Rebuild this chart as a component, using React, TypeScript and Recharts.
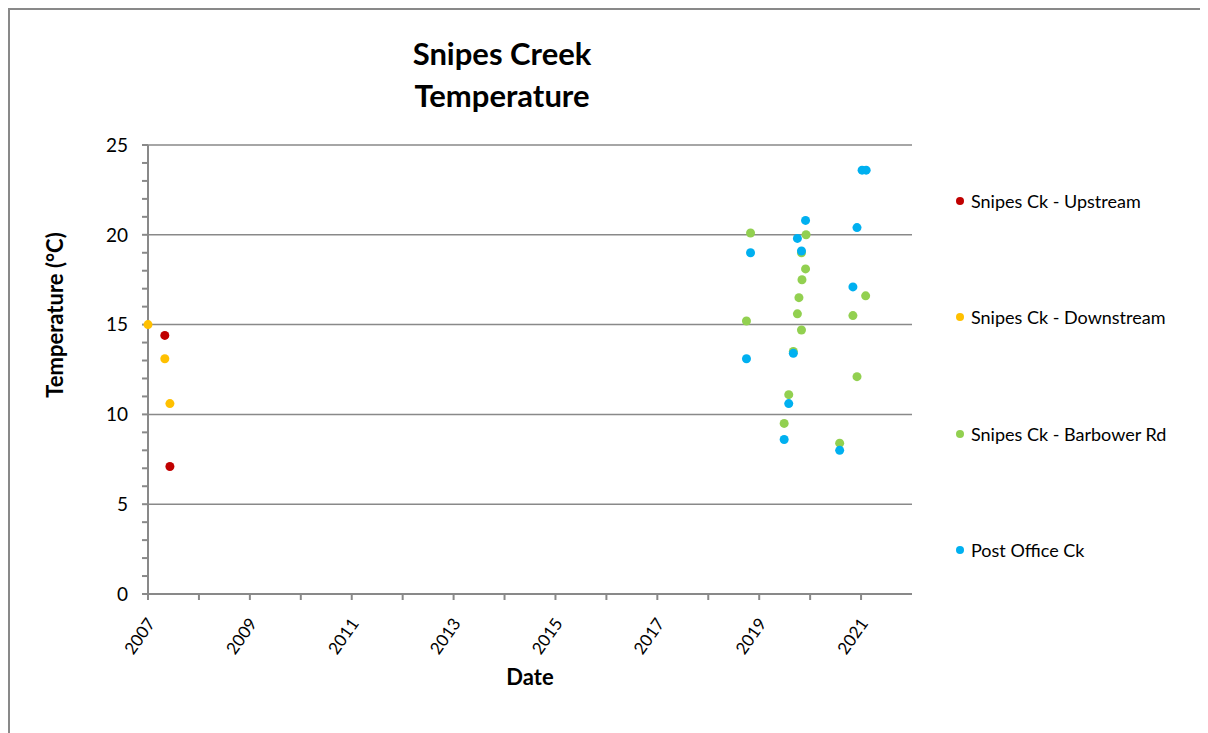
import React from 'react';
import { ScatterChart, Scatter, XAxis, YAxis, ReferenceLine } from 'recharts';

// decimal years, temperatures in °C
const upstreamDates = [2007.33, 2007.43];
const upstreamTemps = [14.4, 7.1];

const downstreamDates = [2007.0, 2007.33, 2007.43];
const downstreamTemps = [15.0, 13.1, 10.6];

const barbowerDates = [2018.83, 2019.92, 2019.83, 2019.91, 2019.84, 2019.78, 2021.09, 2019.75, 2020.84, 2018.75, 2019.83, 2019.67, 2020.92, 2019.58, 2019.49, 2020.58];
const barbowerTemps = [20.1, 20.0, 19.0, 18.1, 17.5, 16.5, 16.6, 15.6, 15.5, 15.2, 14.7, 13.5, 12.1, 11.1, 9.5, 8.4];

const postOfficeDates = [2021.02, 2021.1, 2019.91, 2020.92, 2019.75, 2018.83, 2019.83, 2020.84, 2018.75, 2019.67, 2019.58, 2019.49, 2020.58];
const postOfficeTemps = [23.6, 23.6, 20.8, 20.4, 19.8, 19.0, 19.1, 17.1, 13.1, 13.4, 10.6, 8.6, 8.0];

const yearTicks = [2007, 2008, 2009, 2010, 2011, 2012, 2013, 2014, 2015, 2016, 2017, 2018, 2019, 2020, 2021];
const tempTicks = Array.from({ length: 26 }, (_, i) => i);
const gridTemps = [5, 10, 15, 20, 25];

const zip = (xs: number[], ys: number[]) => xs.map((x, i) => ({ x, y: ys[i] }));

const series = [
  { name: 'Snipes Ck - Upstream', color: '#C00000', data: zip(upstreamDates, upstreamTemps) },
  { name: 'Snipes Ck - Downstream', color: '#FFC000', data: zip(downstreamDates, downstreamTemps) },
  { name: 'Snipes Ck - Barbower Rd', color: '#92D050', data: zip(barbowerDates, barbowerTemps) },
  { name: 'Post Office Ck', color: '#00B0F0', data: zip(postOfficeDates, postOfficeTemps) },
];

const FONT = 'Lato, "Open Sans", sans-serif';
const GREY = '#898989';

const DateTick = (props: any) => {
  const { x, y, payload } = props;
  if (payload.value % 2 !== 1) return null;
  const ax = x + 3;
  const ay = y + 18;
  return (
    <text x={ax} y={ay} transform={`rotate(-55 ${ax} ${ay})`} textAnchor="end" dy="0.35em"
      fontFamily={FONT} fontSize={17} fill="#000">
      {payload.value}
    </text>
  );
};

export default function App() {
  const W = 1198;
  const H = 723;
  return (
    <div style={{ position: 'relative', width: W, height: H, borderLeft: `2px solid ${GREY}`, borderTop: `2px solid ${GREY}`, fontFamily: FONT }}>
      <div style={{ position: 'absolute', left: 242, width: 500, top: 22, textAlign: 'center', fontWeight: 700, fontSize: 31, lineHeight: '42px', color: '#000' }}>
        Snipes Creek<br />Temperature
      </div>
      <ScatterChart width={W} height={H} margin={{ top: 135, right: 296, bottom: 59, left: 0 }}>
        {gridTemps.map(t => (
          <ReferenceLine key={t} y={t} stroke={GREY} strokeWidth={1.5} />
        ))}
        <XAxis type="number" dataKey="x" domain={[2007, 2022]} ticks={yearTicks}
          interval={0} height={80} stroke={GREY} strokeWidth={2} tickSize={6} tick={<DateTick />}
          label={{
            content: (p: any) => (
              <text x={p.viewBox.x + p.viewBox.width / 2} y={669} textAnchor="middle" dominantBaseline="middle"
                fontFamily={FONT} fontSize={22} fontWeight={700} fill="#000">Date</text>
            ),
          }} />
        <YAxis type="number" dataKey="y" domain={[0, 25]} ticks={tempTicks} interval={0} width={138}
          stroke={GREY} strokeWidth={2} tickSize={6} tickMargin={14}
          tick={{ fill: '#000', fontSize: 19, fontFamily: FONT }}
          tickFormatter={(v: number) => (v % 5 === 0 ? String(v) : '')}
          label={{
            content: () => (
              <text x={47} y={305} transform="rotate(-90 47 305)" textAnchor="middle" dominantBaseline="middle"
                fontFamily={FONT} fontSize={22} fontWeight={700} fill="#000">Temperature (°C)</text>
            ),
          }} />
        {series.map(s => (
          <Scatter key={s.name} name={s.name} data={s.data} fill={s.color} isAnimationActive={false}
            shape={(p: any) => <circle cx={p.cx} cy={p.cy} r={4.5} fill={s.color} />} />
        ))}
      </ScatterChart>
      {series.map((s, i) => (
        <div key={s.name} style={{ position: 'absolute', left: 946, top: 191 + i * 116.3 - 12, height: 24, display: 'flex', alignItems: 'center', fontSize: 18, color: '#000' }}>
          <span style={{ width: 8, height: 8, borderRadius: '50%', background: s.color, marginRight: 7 }} />
          {s.name}
        </div>
      ))}
    </div>
  );
}
